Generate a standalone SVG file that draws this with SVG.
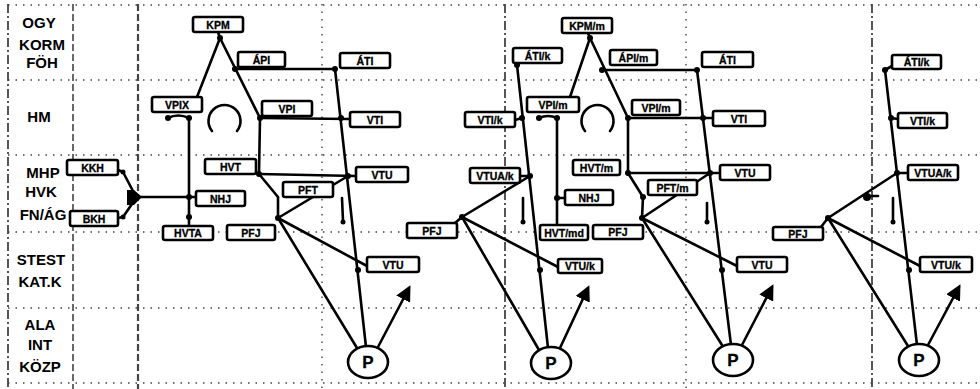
<svg xmlns="http://www.w3.org/2000/svg" width="980" height="389" viewBox="0 0 980 389">
<defs>
<style>
.grid{stroke:#444;fill:none}
.dot{stroke-width:1.4;stroke-dasharray:1.5 6}
.dd{stroke-width:1.8;stroke-dasharray:9 3 2 3}
.dsh{stroke-width:2.2;stroke-dasharray:7 3}
.lbl{font-family:"Liberation Sans",Arial,sans-serif;font-weight:bold;font-size:15px;text-anchor:middle;fill:#000}
.box rect{fill:#fff;stroke:#000;stroke-width:2.6}
.box text,.pn text{font-family:"Liberation Sans",Arial,sans-serif;font-weight:bold;font-size:10.5px;text-anchor:middle;fill:#000;stroke:#000;stroke-width:0.3}
.pn ellipse{fill:#fff;stroke:#000;stroke-width:2.6}
.pn text{font-size:17px}
.ln{stroke:#000;stroke-width:2.6;fill:none;stroke-linecap:round;stroke-linejoin:round}
.jd{fill:#000}
</style>
<marker id="ah" viewBox="0 0 10 10" refX="8" refY="5" markerWidth="6" markerHeight="6" orient="auto" markerUnits="strokeWidth">
<path d="M0,0 L10,5 L0,10 z" fill="#000"/>
</marker>
</defs>
<rect width="980" height="389" fill="#fff"/>
<g id="grid" class="grid">
<line class="dd" x1="8" y1="4" x2="8" y2="389"/>
<line class="dsh" x1="73" y1="4" x2="73" y2="389" style="stroke-width:1.6"/>
<line class="dsh" x1="138" y1="4" x2="138" y2="389"/>
<line class="dot" x1="322" y1="4" x2="322" y2="389"/>
<line class="dd" x1="505" y1="4" x2="505" y2="389"/>
<line class="dot" x1="686" y1="4" x2="686" y2="389"/>
<line class="dd" x1="872" y1="4" x2="872" y2="389"/>
<line class="dot" x1="8" y1="5" x2="980" y2="5"/>
<line class="dot" x1="8" y1="80" x2="980" y2="80"/>
<line class="dot" x1="8" y1="155" x2="980" y2="155"/>
<line class="dot" x1="8" y1="232" x2="980" y2="232"/>
<line class="dot" x1="8" y1="308" x2="980" y2="308"/>
<line class="dot" x1="8" y1="383" x2="980" y2="383"/>
</g>
<g id="row-labels">
<text class="lbl" x="39" y="28">OGY</text>
<text class="lbl" x="42" y="50">KORM</text>
<text class="lbl" x="42" y="68">FÖH</text>
<text class="lbl" x="39" y="122">HM</text>
<text class="lbl" x="43" y="178">MHP</text>
<text class="lbl" x="41" y="197">HVK</text>
<text class="lbl" x="43" y="220">FN/ÁG</text>
<text class="lbl" x="41" y="265">STEST</text>
<text class="lbl" x="40" y="287">KAT.K</text>
<text class="lbl" x="40" y="330">ALA</text>
<text class="lbl" x="40" y="350">INT</text>
<text class="lbl" x="40" y="372">KÖZP</text>
</g>
<g id="connectors">
<polyline class="ln" points="197,97 220,38 260,118"/>
<line class="ln" x1="218" y1="32" x2="220" y2="38"/>
<line class="ln" x1="235" y1="69" x2="335" y2="69"/>
<line class="ln" x1="260" y1="118" x2="350" y2="119"/>
<polyline class="ln" points="260,118 259,174 278,197 278,218"/>
<line class="ln" x1="259" y1="174" x2="356" y2="176"/>
<line class="ln" x1="278" y1="218" x2="348" y2="176"/>
<line class="ln" x1="278" y1="218" x2="367" y2="266"/>
<line class="ln" x1="278" y1="218" x2="357" y2="348"/>
<line class="ln" x1="335" y1="69" x2="366" y2="347"/>
<line class="ln" x1="378" y1="347" x2="409" y2="288" marker-end="url(#ah)"/>
<path class="ln" d="M168,118 Q178,113 189,118"/>
<line class="ln" x1="189" y1="118" x2="189" y2="226"/>
<line class="ln" x1="137" y1="197" x2="196" y2="197"/>
<polyline class="ln" points="118,170 123,172 134,193"/>
<polyline class="ln" points="118,218 123,217 134,201"/>
<polygon points="127,190 134,190 142,197 134,205 127,205" fill="#000"/>
<path class="ln" d="M212,131 A16,16 0 1 1 237,131"/>
<line class="ln" x1="342" y1="198" x2="343" y2="221"/>
<circle class="jd" cx="343" cy="222" r="2.5"/>
<circle class="jd" cx="220" cy="38" r="3"/>
<circle class="jd" cx="235" cy="69" r="3"/>
<circle class="jd" cx="260" cy="118" r="3"/>
<circle class="jd" cx="259" cy="174" r="3"/>
<circle class="jd" cx="278" cy="218" r="3"/>
<circle class="jd" cx="335" cy="69" r="3"/>
<circle class="jd" cx="341" cy="118" r="3"/>
<circle class="jd" cx="348" cy="176" r="3"/>
<circle class="jd" cx="358" cy="270" r="3"/>
<circle class="jd" cx="168" cy="118" r="3"/>
<circle class="jd" cx="189" cy="118" r="3"/>
<circle class="jd" cx="189" cy="197" r="3"/>
<circle class="jd" cx="189" cy="217" r="3"/>
<circle class="jd" cx="123" cy="172" r="2.5"/>
<circle class="jd" cx="123" cy="217" r="2.5"/>
<line class="ln" x1="517" y1="65" x2="548" y2="348"/>
<line class="ln" x1="515" y1="120" x2="522" y2="118"/>
<line class="ln" x1="520" y1="176" x2="530" y2="176"/>
<line class="ln" x1="455" y1="223" x2="462" y2="217"/>
<line class="ln" x1="462" y1="217" x2="530" y2="176"/>
<line class="ln" x1="462" y1="217" x2="558" y2="267"/>
<line class="ln" x1="462" y1="217" x2="539" y2="350"/>
<line class="ln" x1="560" y1="348" x2="588" y2="288" marker-end="url(#ah)"/>
<line class="ln" x1="523" y1="198" x2="523" y2="221"/>
<circle class="jd" cx="523" cy="222" r="2.5"/>
<circle class="jd" cx="517" cy="65" r="3"/>
<circle class="jd" cx="522" cy="118" r="3"/>
<circle class="jd" cx="530" cy="176" r="3"/>
<circle class="jd" cx="462" cy="217" r="3"/>
<circle class="jd" cx="540" cy="270" r="3"/>
<polyline class="ln" points="570,97 590,38 628,118"/>
<line class="ln" x1="588" y1="33" x2="590" y2="38"/>
<line class="ln" x1="602" y1="70" x2="697" y2="70"/>
<line class="ln" x1="628" y1="118" x2="713" y2="118"/>
<polyline class="ln" points="628,118 628,173 643,197 642,218"/>
<line class="ln" x1="628" y1="173" x2="720" y2="173"/>
<line class="ln" x1="642" y1="218" x2="710" y2="173"/>
<line class="ln" x1="642" y1="218" x2="737" y2="266"/>
<line class="ln" x1="642" y1="218" x2="722" y2="345"/>
<line class="ln" x1="697" y1="70" x2="731" y2="345"/>
<line class="ln" x1="742" y1="345" x2="772" y2="287" marker-end="url(#ah)"/>
<path class="ln" d="M539,118 Q548,114 557,118"/>
<line class="ln" x1="557" y1="118" x2="557" y2="225"/>
<line class="ln" x1="557" y1="198" x2="565" y2="198"/>
<path class="ln" d="M585,131 A16,16 0 1 1 610,131"/>
<line class="ln" x1="707" y1="203" x2="707" y2="221"/>
<circle class="jd" cx="707" cy="222" r="2.5"/>
<circle class="jd" cx="590" cy="38" r="3"/>
<circle class="jd" cx="602" cy="70" r="3"/>
<circle class="jd" cx="628" cy="118" r="3"/>
<circle class="jd" cx="628" cy="173" r="3"/>
<circle class="jd" cx="643" cy="197" r="3"/>
<circle class="jd" cx="642" cy="218" r="3"/>
<circle class="jd" cx="697" cy="70" r="3"/>
<circle class="jd" cx="703" cy="118" r="3"/>
<circle class="jd" cx="710" cy="173" r="3"/>
<circle class="jd" cx="722" cy="270" r="3"/>
<circle class="jd" cx="539" cy="118" r="3"/>
<circle class="jd" cx="557" cy="118" r="3"/>
<circle class="jd" cx="557" cy="198" r="3"/>
<line class="ln" x1="885" y1="70" x2="917" y2="345"/>
<line class="ln" x1="885" y1="70" x2="892" y2="66"/>
<line class="ln" x1="891" y1="118" x2="898" y2="119"/>
<line class="ln" x1="897" y1="173" x2="908" y2="173"/>
<line class="ln" x1="821" y1="227" x2="828" y2="218"/>
<line class="ln" x1="828" y1="218" x2="897" y2="173"/>
<line class="ln" x1="828" y1="218" x2="920" y2="266"/>
<line class="ln" x1="828" y1="218" x2="908" y2="346"/>
<line class="ln" x1="928" y1="345" x2="959" y2="287" marker-end="url(#ah)"/>
<circle class="jd" cx="867" cy="197" r="4"/>
<line class="ln" x1="867" y1="196" x2="878" y2="196"/>
<line class="ln" x1="893" y1="198" x2="893" y2="221"/>
<circle class="jd" cx="893" cy="222" r="2.5"/>
<circle class="jd" cx="885" cy="70" r="3"/>
<circle class="jd" cx="891" cy="118" r="3"/>
<circle class="jd" cx="897" cy="173" r="3"/>
<circle class="jd" cx="828" cy="218" r="3"/>
<circle class="jd" cx="909" cy="270" r="3"/>
</g>
<g id="kpm" class="box"><rect x="193" y="17" width="50" height="15" rx="2"/><text x="218" y="28.5">KPM</text></g>
<g id="api1" class="box"><rect x="238" y="52" width="47" height="15" rx="2"/><text x="261.5" y="63.5">ÁPI</text></g>
<g id="ati1" class="box"><rect x="340" y="53" width="50" height="15" rx="2"/><text x="365" y="64.5">ÁTI</text></g>
<g id="vpix" class="box"><rect x="152" y="97" width="50" height="15" rx="2"/><text x="177" y="108.5">VPIX</text></g>
<g id="vpi1" class="box"><rect x="262" y="101" width="50" height="15" rx="2"/><text x="287" y="112.5">VPI</text></g>
<g id="vti1" class="box"><rect x="350" y="112" width="50" height="15" rx="2"/><text x="375" y="123.5">VTI</text></g>
<g id="hvt1" class="box"><rect x="205" y="159" width="51" height="15" rx="2"/><text x="230.5" y="170.5">HVT</text></g>
<g id="vtu1" class="box"><rect x="356" y="167" width="52" height="15" rx="2"/><text x="382" y="178.5">VTU</text></g>
<g id="pft1" class="box"><rect x="283" y="182" width="50" height="15" rx="2"/><text x="308" y="193.5">PFT</text></g>
<g id="kkh" class="box"><rect x="67" y="160" width="51" height="15" rx="2"/><text x="92.5" y="171.5">KKH</text></g>
<g id="nhj1" class="box"><rect x="196" y="191" width="49" height="15" rx="2"/><text x="220.5" y="202.5">NHJ</text></g>
<g id="bkh" class="box"><rect x="70" y="211" width="48" height="15" rx="2"/><text x="94" y="222.5">BKH</text></g>
<g id="hvta" class="box"><rect x="163" y="226" width="50" height="14" rx="2"/><text x="188" y="237">HVTA</text></g>
<g id="pfj1" class="box"><rect x="227" y="225" width="48" height="15" rx="2"/><text x="251" y="236.5">PFJ</text></g>
<g id="vtu1b" class="box"><rect x="367" y="257" width="52" height="15" rx="2"/><text x="393" y="268.5">VTU</text></g>
<g id="p1" class="pn"><ellipse cx="368" cy="362" rx="20" ry="16"/><text x="368" y="368">P</text></g>
<g id="atik2" class="box"><rect x="513" y="48" width="49" height="15" rx="2"/><text x="537.5" y="59.5">ÁTI/k</text></g>
<g id="vtik2" class="box"><rect x="465" y="112" width="50" height="15" rx="2"/><text x="490" y="123.5">VTI/k</text></g>
<g id="vtuak2" class="box"><rect x="470" y="168" width="50" height="15" rx="2"/><text x="495" y="179.5">VTUA/k</text></g>
<g id="pfj2" class="box"><rect x="407" y="223" width="50" height="15" rx="2"/><text x="432" y="234.5">PFJ</text></g>
<g id="vtuk2" class="box"><rect x="558" y="259" width="44" height="14" rx="2"/><text x="580" y="270">VTU/k</text></g>
<g id="p2" class="pn"><ellipse cx="551" cy="363" rx="20" ry="16"/><text x="551" y="369">P</text></g>
<g id="kpmm" class="box"><rect x="562" y="18" width="50" height="15" rx="2"/><text x="587" y="29.5">KPM/m</text></g>
<g id="apim" class="box"><rect x="610" y="50" width="47" height="15" rx="2"/><text x="633.5" y="61.5">ÁPI/m</text></g>
<g id="ati3" class="box"><rect x="702" y="52" width="51" height="15" rx="2"/><text x="727.5" y="63.5">ÁTI</text></g>
<g id="vpiml" class="box"><rect x="527" y="97" width="52" height="15" rx="2"/><text x="553" y="108.5">VPI/m</text></g>
<g id="vpim" class="box"><rect x="632" y="100" width="48" height="15" rx="2"/><text x="656" y="111.5">VPI/m</text></g>
<g id="vti3" class="box"><rect x="713" y="111" width="52" height="15" rx="2"/><text x="739" y="122.5">VTI</text></g>
<g id="hvtm" class="box"><rect x="573" y="160" width="47" height="15" rx="2"/><text x="596.5" y="171.5">HVT/m</text></g>
<g id="vtu3" class="box"><rect x="720" y="165" width="50" height="15" rx="2"/><text x="745" y="176.5">VTU</text></g>
<g id="pftm" class="box"><rect x="648" y="180" width="49" height="15" rx="2"/><text x="672.5" y="191.5">PFT/m</text></g>
<g id="nhj3" class="box"><rect x="565" y="190" width="48" height="15" rx="2"/><text x="589" y="201.5">NHJ</text></g>
<g id="hvtmd" class="box"><rect x="540" y="225" width="48" height="15" rx="2"/><text x="564" y="236.5">HVT/md</text></g>
<g id="pfj3" class="box"><rect x="593" y="225" width="50" height="14" rx="2"/><text x="618" y="236">PFJ</text></g>
<g id="vtu3b" class="box"><rect x="737" y="257" width="50" height="15" rx="2"/><text x="762" y="268.5">VTU</text></g>
<g id="p3" class="pn"><ellipse cx="733" cy="360" rx="20" ry="16"/><text x="733" y="366">P</text></g>
<g id="atik4" class="box"><rect x="892" y="55" width="49" height="14" rx="2"/><text x="916.5" y="66">ÁTI/k</text></g>
<g id="vtik4" class="box"><rect x="898" y="113" width="49" height="15" rx="2"/><text x="922.5" y="124.5">VTI/k</text></g>
<g id="vtuak4" class="box"><rect x="908" y="165" width="50" height="15" rx="2"/><text x="933" y="176.5">VTUA/k</text></g>
<g id="pfj4" class="box"><rect x="773" y="227" width="50" height="13" rx="2"/><text x="798" y="237.5">PFJ</text></g>
<g id="vtuk4" class="box"><rect x="920" y="257" width="52" height="15" rx="2"/><text x="946" y="268.5">VTU/k</text></g>
<g id="p4" class="pn"><ellipse cx="919" cy="360" rx="20" ry="16"/><text x="919" y="366">P</text></g>
</svg>
